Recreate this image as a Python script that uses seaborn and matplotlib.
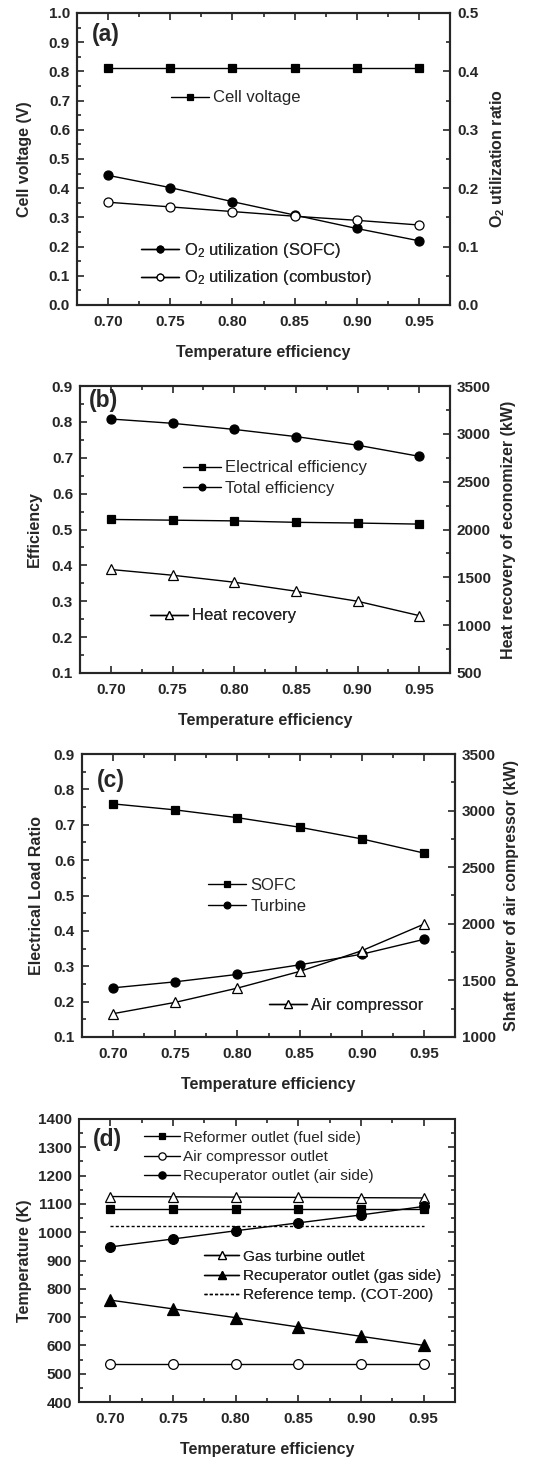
import matplotlib
matplotlib.use("Agg")
import matplotlib.pyplot as plt
import seaborn as sns
import numpy as np
from matplotlib.ticker import MultipleLocator

sns.set_style("ticks")
plt.rcParams['font.family'] = ['Liberation Sans', 'DejaVu Sans']
plt.rcParams['mathtext.fontset'] = 'custom'
plt.rcParams['mathtext.rm'] = 'Liberation Sans'
plt.rcParams['mathtext.it'] = 'Liberation Sans:italic'
plt.rcParams['mathtext.bf'] = 'Liberation Sans:bold'
plt.rcParams['axes.linewidth'] = 1.5

# ---------------- data ----------------
temp_eff = [0.70, 0.75, 0.80, 0.85, 0.90, 0.95]

# (a)
cell_voltage = [0.81, 0.81, 0.81, 0.81, 0.81, 0.81]
o2_sofc = [0.222, 0.201, 0.177, 0.154, 0.131, 0.110]
o2_combustor = [0.176, 0.168, 0.160, 0.152, 0.145, 0.137]

# (b)
electrical_eff = [0.528, 0.526, 0.524, 0.520, 0.518, 0.515]
total_eff = [0.808, 0.796, 0.779, 0.759, 0.735, 0.704]
heat_recovery = [1582, 1522, 1449, 1355, 1250, 1100]

# (c)
sofc_load = [0.759, 0.742, 0.720, 0.693, 0.660, 0.620]
turbine_load = [0.239, 0.256, 0.277, 0.304, 0.334, 0.376]
air_comp_power = [1206, 1306, 1432, 1579, 1762, 1997]

# (d)
reformer_out = [1081, 1081, 1081, 1081, 1081, 1081]
air_comp_out = [536, 536, 536, 536, 536, 536]
recup_air = [948, 976, 1005, 1033, 1061, 1091]
gt_out = [1126, 1125, 1124, 1123, 1122, 1121]
recup_gas = [760, 729, 698, 665, 632, 600]
ref_temp = [1022, 1022, 1022, 1022, 1022, 1022]

xticks = [0.70, 0.75, 0.80, 0.85, 0.90, 0.95]
xticklabels = ["0.70", "0.75", "0.80", "0.85", "0.90", "0.95"]

W, H = 540, 1457
fig = plt.figure(figsize=(W / 100, H / 100), dpi=100)

TICK_FS = 11
LAB_FS = 11.5
LEG_FS = 12


def frac(left, top, right, bottom):
    return [left / W, (H - bottom) / H, (right - left) / W, (bottom - top) / H]


def style_axis(ax, right=True):
    ax.set_xlim(0.675, 0.975)
    ax.set_xticks(xticks)
    ax.set_xticklabels(xticklabels)
    ax.xaxis.set_minor_locator(MultipleLocator(0.025))
    ax.tick_params(axis='both', which='both', direction='in', top=True, right=right,
                   labelsize=TICK_FS, width=1.2)
    ax.tick_params(axis='both', which='major', length=5)
    ax.tick_params(axis='both', which='minor', length=3)
    ax.tick_params(axis='x', which='major', pad=7.5)
    ax.tick_params(axis='y', which='major', pad=5)
    for lab in ax.get_xticklabels() + ax.get_yticklabels():
        lab.set_fontweight('bold')
    ax.set_xlabel("Temperature efficiency", fontsize=LAB_FS, fontweight='bold', labelpad=11.5)


def style_twin(ax2):
    ax2.tick_params(axis='y', which='both', direction='in', right=True, labelsize=TICK_FS, width=1.2)
    ax2.tick_params(axis='y', which='major', length=5, pad=5)
    ax2.tick_params(axis='y', which='minor', length=3)
    for lab in ax2.get_yticklabels():
        lab.set_fontweight('bold')


def line(ax, y, marker, filled=True, ms=6, ls='-'):
    sns.lineplot(x=temp_eff, y=y, ax=ax, color='black', linewidth=1.0, linestyle=ls,
                 marker=marker, markersize=ms,
                 markerfacecolor='black' if filled else 'white',
                 markeredgecolor='black', markeredgewidth=0.9, legend=False)
    return ax.lines[-1]


def legend(ax, handles, labels, x, y, spacing=0.2, fs=LEG_FS, loc='center left'):
    lg = ax.legend(handles, labels, loc=loc, bbox_to_anchor=(x, y), frameon=False,
                   fontsize=fs, borderpad=0, borderaxespad=0, handlelength=2.3,
                   handletextpad=0.25, labelspacing=spacing, markerscale=0.75)
    ax.add_artist(lg)
    return lg


def panel_tag(ax, s, x, y):
    ax.text(x, y, s, transform=ax.transAxes, fontsize=16.5, fontweight='bold',
            ha='left', va='center')


# ---------------- (a) ----------------
ax = fig.add_axes(frac(77, 13, 450, 305))
ax2 = ax.twinx()
h_cv = line(ax, cell_voltage, 's', ms=5.5)
h_s = line(ax2, o2_sofc, 'o', ms=6.5)
h_c = line(ax2, o2_combustor, 'o', filled=False, ms=6.5)
ax.set_ylim(0, 1.0)
ax.yaxis.set_major_locator(MultipleLocator(0.1))
ax.yaxis.set_minor_locator(MultipleLocator(0.05))
ax2.set_ylim(0, 0.5)
ax2.yaxis.set_major_locator(MultipleLocator(0.1))
ax2.yaxis.set_minor_locator(MultipleLocator(0.05))
style_axis(ax, right=False)
style_twin(ax2)
ax.set_ylabel("Cell voltage (V)", fontsize=LAB_FS, fontweight='bold', labelpad=12)
ax2.set_ylabel(r"$\mathbf{O}_\mathbf{2}$ utilization ratio", fontsize=LAB_FS, fontweight='bold', labelpad=7)
legend(ax2, [h_cv], ["Cell voltage"], 0.252, 0.709)
legend(ax2, [h_s, h_c], [r"O$_2$ utilization (SOFC)", r"O$_2$ utilization (combustor)"], 0.172, 0.140, spacing=0.51)
panel_tag(ax2, "(a)", 0.04, 0.925)

# ---------------- (b) ----------------
ax = fig.add_axes(frac(80, 386, 450, 673))
ax2 = ax.twinx()
h_e = line(ax, electrical_eff, 's', ms=5.5)
h_t = line(ax, total_eff, 'o', ms=6.5)
h_h = line(ax2, heat_recovery, '^', filled=False, ms=7.5)
ax.set_ylim(0.1, 0.9)
ax.yaxis.set_major_locator(MultipleLocator(0.1))
ax.yaxis.set_minor_locator(MultipleLocator(0.05))
ax2.set_ylim(500, 3500)
ax2.yaxis.set_major_locator(MultipleLocator(500))
ax2.yaxis.set_minor_locator(MultipleLocator(250))
style_axis(ax, right=False)
style_twin(ax2)
ax.set_ylabel("Efficiency", fontsize=LAB_FS, fontweight='bold', labelpad=7)
ax2.set_ylabel("Heat recovery of economizer (kW)", fontsize=LAB_FS, fontweight='bold', labelpad=7)
legend(ax2, [h_e, h_t], ["Electrical efficiency", "Total efficiency"], 0.278, 0.679, spacing=0.32)
legend(ax2, [h_h], ["Heat recovery"], 0.189, 0.199)
panel_tag(ax2, "(b)", 0.024, 0.951)

# ---------------- (c) ----------------
ax = fig.add_axes(frac(82, 754, 455, 1037))
ax2 = ax.twinx()
h_so = line(ax, sofc_load, 's', ms=5.5)
h_tu = line(ax, turbine_load, 'o', ms=6.5)
h_ac = line(ax2, air_comp_power, '^', filled=False, ms=7.5)
ax.set_ylim(0.1, 0.9)
ax.yaxis.set_major_locator(MultipleLocator(0.1))
ax.yaxis.set_minor_locator(MultipleLocator(0.05))
ax2.set_ylim(1000, 3500)
ax2.yaxis.set_major_locator(MultipleLocator(500))
ax2.yaxis.set_minor_locator(MultipleLocator(250))
style_axis(ax, right=False)
style_twin(ax2)
ax.set_ylabel("Electrical Load Ratio", fontsize=LAB_FS, fontweight='bold', labelpad=7)
ax2.set_ylabel("Shaft power of air compressor (kW)", fontsize=LAB_FS, fontweight='bold', labelpad=6)
legend(ax2, [h_so, h_tu], ["SOFC", "Turbine"], 0.338, 0.498, spacing=0.38)
legend(ax2, [h_ac], ["Air compressor"], 0.501, 0.113)
panel_tag(ax2, "(c)", 0.04, 0.908)

# ---------------- (d) ----------------
ax = fig.add_axes(frac(79, 1119, 455, 1402))
h_gt = line(ax, gt_out, '^', filled=False, ms=7.5)
h_rf = line(ax, reformer_out, 's', ms=6)
h_ref = line(ax, ref_temp, None, ls=(0, (2.2, 1.6)))
h_ra = line(ax, recup_air, 'o', ms=7)
h_rg = line(ax, recup_gas, '^', ms=8)
h_ao = line(ax, air_comp_out, 'o', filled=False, ms=7)
ax.set_ylim(400, 1400)
ax.yaxis.set_major_locator(MultipleLocator(100))
ax.yaxis.set_minor_locator(MultipleLocator(50))
style_axis(ax, right=True)
ax.set_ylabel("Temperature (K)", fontsize=LAB_FS, fontweight='bold', labelpad=4)
legend(ax, [h_rf, h_ao, h_ra], ["Reformer outlet (fuel side)", "Air compressor outlet",
                                 "Recuperator outlet (air side)"], 0.173, 0.866, spacing=0.35, fs=11.1)
legend(ax, [h_gt, h_rg, h_ref], ["Gas turbine outlet", "Recuperator outlet (gas side)",
                                  "Reference temp. (COT-200)"], 0.332, 0.445, spacing=0.35, fs=11.1)
panel_tag(ax, "(d)", 0.037, 0.926)

fig.savefig("out.png", dpi=100)
